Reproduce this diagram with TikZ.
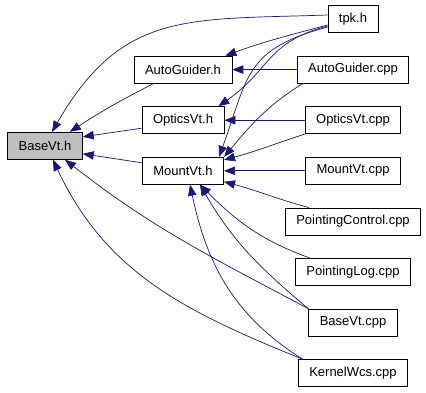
\documentclass[tikz,border=0pt]{standalone}
\usepackage{fontspec}
\setmainfont{Liberation Sans}
\usetikzlibrary{arrows.meta}
\definecolor{edgeblue}{RGB}{25,25,112}
\definecolor{boxgray}{RGB}{191,191,191}

\begin{document}
\begin{tikzpicture}[node distance=50.6pt,
  incfile/.style={shape=rectangle, draw, line width=0.8pt, minimum height=27pt,
    inner xsep=11pt, font=\fontsize{13}{15}\selectfont},
  incl/.style={draw=edgeblue, line width=0.7pt, -{Triangle[length=11pt,width=8.5pt]}, fill=none}]
\useasboundingbox (-353pt,-373pt) rectangle (73pt,19pt);

% right column
\node [incfile] (tpk) {tpk.h};
\node [incfile, below of=tpk] (agc) {AutoGuider.cpp};
\node [incfile, below of=agc] (ovc) {OpticsVt.cpp};
\node [incfile, below of=ovc] (mvc) {MountVt.cpp};
\node [incfile, below of=mvc] (pcc) {PointingControl.cpp};
\node [incfile, below of=pcc] (plc) {PointingLog.cpp};
\node [incfile, below of=plc] (bvc) {BaseVt.cpp};
\node [incfile, below of=bvc] (kwc) {KernelWcs.cpp};
% headers
\node [incfile, left of=agc, node distance=170pt] (agh) {AutoGuider.h};
\node [incfile, left of=ovc, node distance=170pt] (ovh) {OpticsVt.h};
\node [incfile, left of=mvc, node distance=170pt] (mvh) {MountVt.h};
\node [incfile, fill=boxgray, left of=mvh, node distance=138pt, yshift=25pt] (bvh) {BaseVt.h};

% into BaseVt.h
\draw[incl] ([yshift=4pt]tpk.west) to [out=182, in=60, looseness=1.2] ([xshift=7pt]bvh.north);
\draw[incl] ([xshift=20pt]agh.south west) to [out=207, in=33] ([xshift=-13pt]bvh.north east);
\draw[incl] ([yshift=-8pt]ovh.west) -- ([yshift=9pt]bvh.east);
\draw[incl] ([yshift=8pt]mvh.west) -- ([yshift=-8pt]bvh.east);
\draw[incl] (bvc.north west) to [out=152, in=-38] ([xshift=20pt]bvh.south);
\draw[incl] ([xshift=5pt]kwc.north west) to [out=158, in=-65] ([xshift=8pt]bvh.south);

% into AutoGuider.h and OpticsVt.h
\draw[incl] ([yshift=-6pt]tpk.west) to [out=195, in=20] ([xshift=-7pt]agh.north east);
\draw[incl] (agc.west) -- (agh.east);
\draw[incl] ([yshift=-7pt]tpk.west) to [out=195, in=35, looseness=1.2] ([xshift=-6pt]ovh.north east);
\draw[incl] (ovc.west) -- (ovh.east);

% into MountVt.h
\draw[incl] ([yshift=-8pt]tpk.west) to [out=195, in=70, looseness=1.3] ([xshift=-5pt]mvh.north east);
\draw[incl] ([xshift=6pt]agc.south west) to [out=212, in=50] (mvh.north east);
\draw[incl] (ovc.south west) to [out=198, in=15] ([yshift=-3pt]mvh.north east);
\draw[incl] (mvc.west) -- (mvh.east);
\draw[incl] ([xshift=24pt]pcc.north west) to [out=165, in=-15] ([yshift=3pt]mvh.south east);
\draw[incl] ([xshift=15pt]plc.north west) to [out=160, in=-45] ([xshift=17pt]mvh.south);
\draw[incl] (bvc.north west) to [out=140, in=-60] ([xshift=17pt]mvh.south);
\draw[incl] ([xshift=5pt]kwc.north west) to [out=148, in=-78] ([xshift=7pt]mvh.south);
\end{tikzpicture}
\end{document}
